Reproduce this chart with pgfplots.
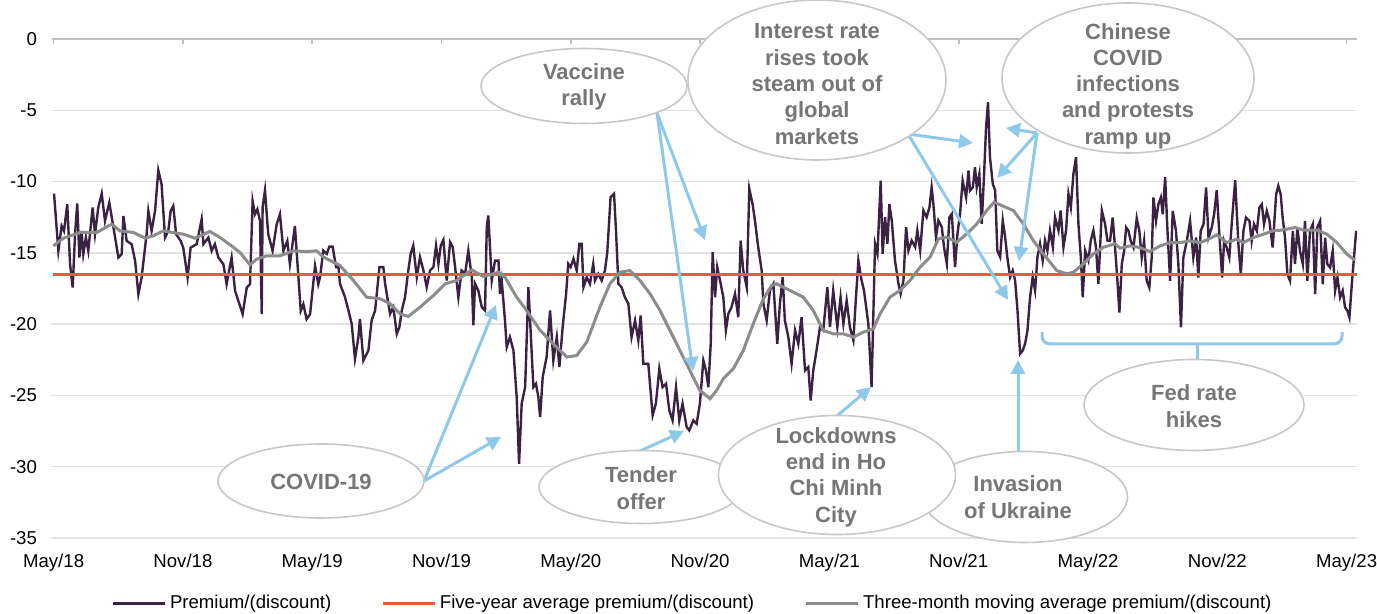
\documentclass[border=0pt]{standalone}
\usepackage{fontspec}
\setmainfont{Liberation Sans}
\usepackage{pgfplots}
\pgfplotsset{compat=1.18}
\usetikzlibrary{arrows.meta}
\definecolor{prem}{RGB}{59,34,66}
\definecolor{avgc}{RGB}{238,87,67}
\definecolor{mac}{RGB}{140,140,140}
\definecolor{arrc}{RGB}{142,200,234}
\definecolor{ellc}{RGB}{200,200,200}
\definecolor{annc}{RGB}{118,118,118}
\definecolor{gridc}{RGB}{227,227,227}
\definecolor{axc}{RGB}{191,191,191}
\begin{document}
\begin{tikzpicture}
\useasboundingbox (0,0) rectangle (688.5pt,307pt);
\begin{axis}[
  at={(25.5pt,38pt)}, anchor=south west,
  scale only axis, width=653pt, height=249.5pt,
  xmin=0, xmax=60.24, ymin=-35, ymax=0,
  xtick={0.12,6.084,12.048,18.012,23.976,29.94,35.904,41.868,47.832,53.796,59.76},
  xticklabels={May/18,Nov/18,May/19,Nov/19,May/20,Nov/20,May/21,Nov/21,May/22,Nov/22,May/23},
  ytick={-35,-30,...,0},
  yticklabels={-35,-30,-25,-20,-15,-10,-5,0},
  axis line style={draw=none},
  major tick length=0pt,
  ymajorgrids, grid style={color=gridc, line width=0.75pt},
  tick label style={font=\fontsize{9.3}{11}\selectfont, text=black},
  xticklabel style={yshift=-4.5pt},
  yticklabel style={xshift=-3.5pt},
  legend style={at={(0.492,-0.131)}, anchor=center, draw=none, fill=none,
    font=\fontsize{9.3}{11}\selectfont, legend columns=3,
    /tikz/every even column/.append style={column sep=23pt}},
  legend image code/.code={\draw[#1] (0pt,0pt) -- (26pt,0pt);},
]
\addplot[prem, line width=1.2pt] table {
x y
0.14 -10.84
0.34 -14.86
0.49 -13.11
0.60 -13.46
0.75 -11.59
0.88 -15.79
1.00 -17.43
1.11 -13.69
1.21 -11.54
1.31 -15.33
1.41 -13.46
1.49 -15.09
1.61 -13.93
1.72 -14.86
1.92 -11.82
2.03 -13.69
2.18 -11.82
2.34 -10.84
2.49 -12.76
2.69 -11.47
2.88 -13.22
3.11 -15.33
3.26 -15.09
3.34 -12.41
3.49 -14.16
3.72 -14.39
3.88 -15.56
4.03 -17.90
4.18 -16.73
4.41 -13.69
4.49 -12.06
4.64 -13.46
4.80 -12.06
4.95 -9.21
5.10 -10.19
5.26 -13.93
5.41 -13.46
5.52 -12.06
5.64 -11.71
5.77 -13.69
5.98 -14.16
6.10 -14.63
6.30 -16.73
6.44 -14.63
6.72 -14.39
6.95 -12.64
7.03 -14.39
7.26 -13.93
7.41 -14.86
7.56 -14.39
7.72 -15.33
7.95 -15.79
8.10 -17.20
8.33 -15.33
8.49 -17.66
8.64 -18.36
8.84 -19.30
9.03 -17.43
9.18 -17.20
9.30 -11.36
9.41 -12.29
9.52 -11.94
9.64 -12.76
9.72 -19.30
9.76 -11.82
9.87 -10.61
10.02 -13.69
10.22 -14.86
10.41 -12.99
10.56 -12.29
10.72 -14.86
10.90 -14.16
11.02 -15.79
11.25 -13.11
11.36 -15.56
11.52 -19.07
11.64 -18.60
11.79 -19.65
11.95 -19.30
12.18 -15.91
12.33 -17.20
12.41 -16.71
12.56 -14.84
12.72 -15.07
12.84 -14.56
12.99 -14.56
13.15 -16.00
13.26 -16.00
13.33 -17.17
13.56 -18.11
13.72 -19.04
13.87 -19.98
14.02 -22.43
14.18 -20.91
14.25 -19.63
14.41 -22.55
14.64 -21.85
14.79 -19.74
14.95 -19.04
15.15 -16.00
15.33 -16.00
15.41 -17.17
15.64 -19.28
15.79 -18.81
15.95 -20.68
16.07 -20.21
16.18 -19.04
16.33 -18.11
16.48 -16.24
16.59 -15.07
16.71 -14.49
16.87 -16.71
17.02 -15.30
17.18 -16.24
17.33 -17.41
17.48 -16.24
17.64 -16.00
17.76 -14.49
17.87 -15.77
17.98 -14.49
18.10 -14.09
18.25 -16.94
18.41 -14.25
18.53 -14.60
18.64 -16.00
18.79 -18.11
18.94 -16.24
19.10 -16.47
19.25 -14.84
19.41 -16.71
19.48 -20.09
19.56 -17.17
19.71 -17.64
19.87 -18.81
20.02 -19.04
20.10 -13.20
20.17 -12.38
20.25 -14.60
20.33 -16.94
20.48 -15.54
20.64 -15.54
20.71 -17.87
20.79 -16.94
20.94 -19.74
21.02 -21.61
21.17 -20.91
21.33 -21.85
21.48 -25.12
21.59 -29.79
21.71 -25.58
21.87 -24.42
22.02 -17.41
22.13 -20.68
22.25 -24.42
22.37 -24.18
22.48 -25.12
22.56 -26.52
22.68 -23.71
22.86 -22.31
23.02 -19.04
23.17 -22.55
23.33 -20.91
23.45 -23.01
23.60 -20.21
23.76 -17.87
23.86 -15.77
23.97 -16.00
24.10 -15.42
24.25 -16.24
24.37 -14.37
24.48 -14.37
24.56 -17.41
24.71 -16.71
24.86 -17.17
25.01 -15.77
25.09 -16.94
25.24 -16.47
25.40 -16.94
25.55 -16.24
25.66 -14.95
25.81 -11.10
25.97 -10.86
26.06 -13.43
26.17 -17.17
26.32 -17.41
26.47 -18.11
26.63 -18.57
26.78 -20.91
26.94 -19.74
27.09 -21.14
27.20 -19.39
27.32 -22.78
27.55 -22.78
27.75 -26.40
27.90 -25.58
28.06 -23.13
28.21 -24.42
28.37 -24.18
28.52 -26.05
28.67 -26.75
28.83 -24.42
28.98 -26.75
29.13 -25.58
29.32 -27.22
29.44 -27.45
29.63 -26.75
29.78 -26.99
29.93 -25.58
30.09 -22.55
30.21 -23.25
30.32 -24.42
30.43 -21.38
30.52 -14.95
30.63 -18.11
30.73 -16.00
30.89 -17.17
31.01 -18.11
31.13 -20.44
31.24 -19.28
31.39 -18.81
31.55 -17.87
31.70 -19.51
31.81 -14.14
31.93 -16.24
32.09 -17.41
32.21 -10.51
32.36 -11.57
32.47 -12.73
32.62 -14.60
32.78 -16.24
32.86 -18.57
33.01 -19.74
33.16 -17.64
33.32 -17.17
33.50 -21.38
33.62 -18.57
33.75 -16.71
33.85 -19.74
34.01 -20.91
34.16 -22.78
34.32 -20.44
34.47 -21.38
34.62 -19.51
34.78 -23.25
34.93 -23.01
35.04 -25.35
35.16 -23.25
35.31 -21.85
35.47 -20.21
35.62 -20.44
35.81 -17.41
35.93 -20.21
36.08 -17.64
36.27 -20.21
36.42 -18.11
36.55 -19.98
36.70 -18.34
36.85 -20.21
37.01 -21.14
37.13 -18.11
37.24 -15.54
37.39 -16.94
37.50 -17.64
37.70 -19.98
37.85 -24.42
38.01 -14.37
38.12 -15.07
38.27 -9.93
38.36 -15.07
38.47 -12.50
38.58 -14.37
38.67 -11.57
38.78 -12.73
38.93 -15.54
39.09 -17.17
39.19 -17.87
39.32 -16.94
39.44 -13.20
39.55 -14.84
39.70 -14.14
39.86 -14.60
39.96 -13.43
40.09 -14.84
40.24 -12.03
40.39 -12.50
40.52 -11.80
40.62 -10.40
40.70 -11.57
40.82 -13.90
40.93 -12.73
41.09 -13.20
41.19 -14.60
41.32 -15.77
41.44 -12.50
41.55 -12.27
41.70 -16.00
41.81 -13.67
41.93 -12.27
42.05 -9.93
42.21 -11.10
42.32 -9.23
42.39 -10.63
42.52 -10.40
42.62 -9.00
42.70 -10.40
42.82 -9.46
42.93 -12.97
43.04 -9.46
43.13 -6.19
43.22 -4.44
43.31 -8.29
43.44 -10.16
43.55 -10.63
43.65 -14.84
43.78 -15.30
43.90 -12.73
44.01 -13.90
44.11 -15.30
44.24 -16.71
44.36 -16.24
44.47 -16.94
44.58 -19.04
44.70 -22.08
44.82 -21.85
44.93 -21.38
45.04 -20.44
45.16 -18.11
45.28 -16.71
45.39 -17.64
45.50 -15.30
45.62 -14.37
45.74 -15.54
45.85 -14.14
45.96 -14.84
46.08 -13.43
46.21 -14.60
46.31 -12.50
46.47 -13.43
46.57 -12.03
46.70 -14.60
46.82 -13.43
46.93 -10.86
47.04 -11.80
47.16 -9.46
47.28 -8.29
47.39 -12.97
47.50 -15.30
47.59 -18.11
47.70 -14.84
47.85 -15.54
47.96 -14.14
48.08 -13.43
48.20 -14.60
48.31 -17.17
48.47 -12.03
48.62 -12.97
48.73 -14.14
48.85 -14.16
48.97 -12.52
49.08 -14.63
49.19 -16.96
49.28 -19.18
49.39 -15.79
49.50 -14.86
49.59 -13.22
49.70 -13.46
49.80 -14.16
49.93 -14.63
50.08 -12.57
50.20 -13.46
50.31 -15.33
50.42 -14.16
50.54 -16.96
50.66 -17.43
50.77 -15.33
50.85 -11.12
50.97 -12.76
51.08 -11.59
51.19 -11.12
51.28 -12.29
51.39 -9.67
51.49 -13.22
51.62 -16.96
51.74 -12.06
51.89 -13.46
52.00 -15.79
52.12 -20.23
52.23 -15.33
52.39 -14.16
52.54 -12.76
52.69 -15.33
52.82 -13.93
52.92 -16.73
53.03 -13.46
53.16 -12.99
53.28 -10.42
53.39 -13.93
53.54 -13.22
53.65 -12.29
53.77 -10.61
53.89 -13.69
54.02 -16.73
54.11 -14.16
54.23 -14.63
54.35 -15.33
54.46 -13.00
54.62 -9.91
54.77 -14.39
54.88 -16.50
55.00 -13.46
55.12 -12.52
55.28 -12.76
55.38 -14.16
55.49 -12.99
55.62 -13.46
55.74 -11.82
55.85 -11.59
55.95 -12.99
56.08 -12.06
56.20 -12.76
56.35 -14.63
56.51 -10.89
56.61 -10.30
56.72 -10.89
56.81 -12.52
56.92 -13.93
57.03 -16.50
57.15 -16.96
57.28 -13.46
57.38 -15.79
57.49 -13.22
57.61 -14.86
57.74 -15.79
57.84 -12.76
57.95 -16.96
58.07 -13.46
58.20 -12.99
58.31 -17.90
58.41 -13.22
58.54 -12.76
58.66 -17.20
58.77 -13.93
58.87 -15.79
59.00 -16.03
59.12 -14.86
59.23 -17.66
59.34 -16.73
59.46 -18.13
59.58 -17.66
59.69 -18.83
59.80 -19.07
59.89 -19.53
60.00 -17.20
60.10 -15.33
60.20 -13.46
};
\addlegendentry{Premium/(discount)}
\addplot[avgc, line width=1.3pt] coordinates {(0.09,-16.5) (60.24,-16.5)};
\addlegendentry{Five-year average premium/(discount)}
\addplot[mac, line width=1.5pt] table {
x y
0.11 -14.51
0.57 -13.97
1.34 -13.57
2.11 -13.57
2.80 -12.99
3.18 -13.46
3.80 -13.57
4.34 -13.97
4.72 -13.81
5.18 -13.46
6.10 -13.69
6.64 -13.97
7.33 -13.50
7.80 -13.93
8.33 -14.51
8.72 -14.98
9.18 -15.84
9.49 -15.44
9.95 -15.21
10.56 -15.21
11.18 -14.86
11.79 -14.91
12.25 -14.86
12.56 -15.28
12.87 -15.54
13.33 -15.89
13.95 -16.94
14.56 -18.11
15.18 -18.22
15.64 -18.57
16.10 -19.28
16.48 -19.46
17.02 -18.81
17.64 -17.99
18.18 -17.17
18.71 -16.94
19.41 -16.19
19.94 -16.66
20.64 -16.36
20.94 -16.71
21.48 -18.11
21.94 -19.04
22.56 -20.44
23.17 -21.38
23.79 -22.31
24.25 -22.20
24.71 -21.26
25.32 -18.80
25.78 -17.17
26.24 -16.36
26.70 -16.24
27.17 -16.94
27.63 -17.87
28.09 -19.04
28.55 -20.44
29.01 -21.85
29.47 -23.25
29.93 -24.65
30.40 -25.23
30.70 -24.65
31.01 -23.83
31.47 -23.13
31.93 -21.85
32.39 -19.98
32.86 -18.22
33.24 -17.29
33.47 -17.17
34.09 -17.64
34.70 -18.11
35.16 -19.04
35.62 -20.44
36.08 -20.68
36.55 -20.68
37.01 -20.91
37.47 -20.56
37.93 -20.33
38.24 -19.28
38.70 -18.11
39.16 -17.64
39.62 -16.94
40.09 -16.00
40.55 -15.30
40.93 -14.02
41.32 -13.90
41.78 -14.25
42.24 -13.67
42.70 -12.97
43.16 -12.03
43.50 -11.45
43.85 -11.68
44.39 -12.03
44.85 -12.97
45.31 -14.14
45.77 -15.07
46.39 -16.24
46.85 -16.47
47.16 -16.36
47.62 -15.77
48.08 -15.07
48.55 -14.60
49.08 -14.37
49.31 -14.67
49.77 -14.51
50.23 -14.63
50.69 -14.91
51.16 -14.51
51.62 -14.28
52.08 -14.28
52.54 -14.16
53.00 -14.28
53.39 -14.04
53.77 -13.74
54.23 -14.28
54.69 -14.04
55.00 -14.28
55.46 -13.93
55.92 -13.69
56.38 -13.46
56.85 -13.39
57.38 -13.22
57.77 -13.41
58.38 -13.41
58.85 -13.69
59.31 -14.28
59.77 -15.09
60.15 -15.51
};
\addlegendentry{Three-month moving average premium/(discount)}
\end{axis}
\begin{scope}[x=0.5pt, y=-0.5pt, shift={(0pt,307pt)}]
  \tikzset{
    arr/.style={draw=arrc, line width=1.5pt, -{Triangle[length=7pt,width=7pt]}},
    ell/.style={draw=ellc, line width=0.8pt, fill=white},
    ann/.style={text=annc, align=center, font=\fontsize{11}{13.15}\selectfont\bfseries},
  }
  % top axis line with ticks
  \draw[axc, line width=0.8pt] (53,39) -- (1357,39);
  \foreach \k in {0,...,10} {\draw[axc, line width=0.8pt] ({53.6+129.3*\k},39) -- ++(0,5);}
  % arrows
  \draw[arr] (657,113) -- (705,240);
  \draw[arr] (657,113) -- (693,371);
  \draw[arr] (424,481) -- (496,305);
  \draw[arr] (424,481) -- (501,437);
  \draw[arr] (640,451) -- (684,431);
  \draw[arr] (837,416) -- (871,387);
  \draw[arr] (1018,452) -- (1018,360);
  \draw[arr] (908,134) -- (973,143);
  \draw[arr] (908,134) -- (1008,300);
  \draw[arr] (1037,133) -- (1006,128);
  \draw[arr] (1037,133) -- (997,178);
  \draw[arr] (1037,133) -- (1019,261);
  % Fed bracket
  \draw[arrc, line width=1.5pt, rounded corners=4pt] (1042,332) -- (1042,344) -- (1342,344) -- (1342,332);
  \draw[arrc, line width=1.5pt] (1197,344) -- (1197,360);
  % ellipses
  \draw[ell] (584,86) ellipse [x radius=51.5pt, y radius=18.75pt];
  \node[ann] at (584,87) {Vaccine\\rally};
  \draw[ell] (817,80) ellipse [x radius=64.5pt, y radius=40pt];
  \node[ann] at (817,84) {Interest rate\\rises took\\steam out of\\global\\markets};
  \draw[ell] (1128,78) ellipse [x radius=63pt, y radius=37.5pt];
  \node[ann] at (1128,86) {Chinese\\COVID\\infections\\and protests\\ramp up};
  \draw[ell] (321,481) ellipse [x radius=51.5pt, y radius=18.5pt];
  \node[ann] at (321,482) {COVID-19};
  \draw[ell] (641,487) ellipse [x radius=51pt, y radius=18.25pt];
  \node[ann] at (641,488) {Tender\\offer};
  \draw[ell] (1025,497) ellipse [x radius=51.25pt, y radius=22.75pt];
  \node[ann] at (1018,497) {Invasion\\of Ukraine};
  \draw[ell] (1194,405) ellipse [x radius=55pt, y radius=22.75pt];
  \node[ann] at (1194,406) {Fed rate\\hikes};
  \draw[ell] (837,475) ellipse [x radius=59.25pt, y radius=29.75pt];
  \node[ann] at (836,477) {Lockdowns\\end in Ho\\Chi Minh\\City};
\end{scope}
\end{tikzpicture}
\end{document}
